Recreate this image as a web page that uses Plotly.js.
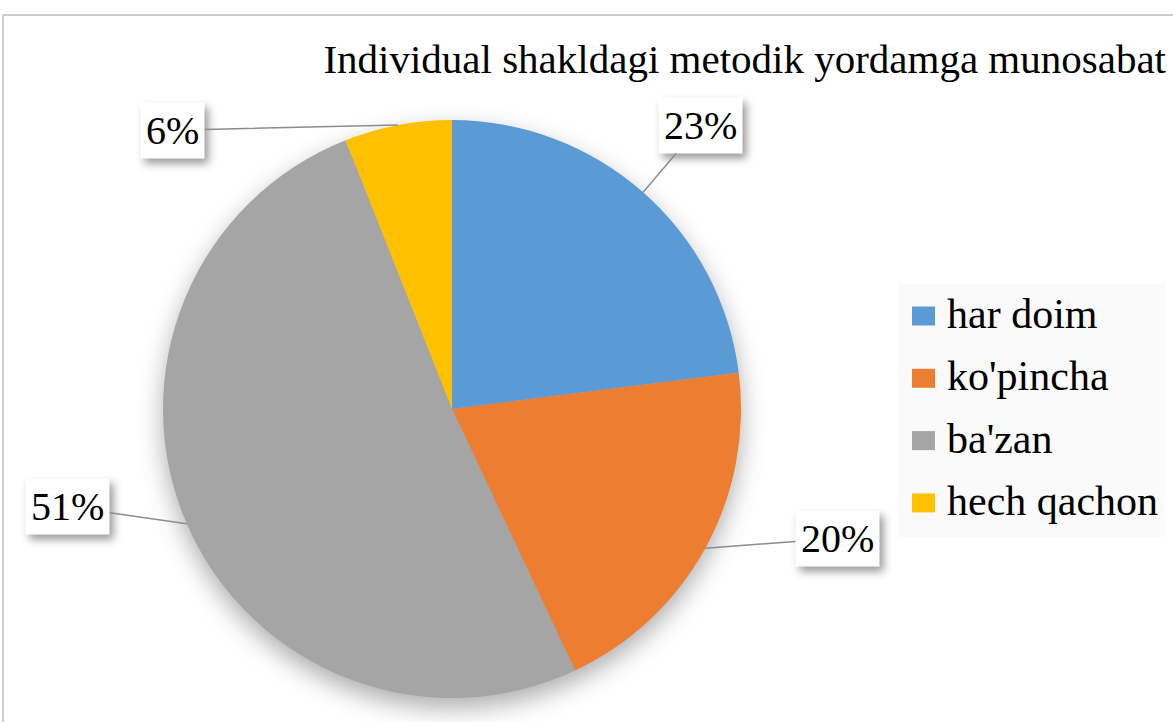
<!DOCTYPE html>
<html>
<head>
<meta charset="utf-8">
<script src="https://cdn.plot.ly/plotly-3.0.1.min.js"></script>
</head>
<body style="margin:0">
<div id="chart" style="width:1173px;height:722px"></div>
<script>
// ---- data ----
const categories = ["har doim", "ko'pincha", "ba'zan", "hech qachon"];
const values = [23, 20, 51, 6];
const colors = ["#5B9BD5", "#ED7D31", "#A5A5A5", "#FFC000"];
const chartTitle = "Individual shakldagi metodik yordamga munosabat";

// ---- layout constants (pixels) ----
const W = 1173, H = 722;
const CX = 452, CY = 409, R = 289;               // pie centre / radius
const labelOffsets = [[57, -67], [132, -10], [-119, -17], [-225, 5]]; // data-label placement
const LEG = { x0: 898, x1: 1165, y0: 283, y1: 537, firstY: 316, gap: 62.3, sqX: 912, sqW: 23, sqH: 19, textX: 945 };
const FONT = "Times New Roman, serif";

// make sure the serif face is resolved before/after drawing
function touchFonts() {
  const c = document.createElement('canvas').getContext('2d');
  ['40px "Times New Roman"', '41px "Times New Roman"', '42px "Times New Roman"', '40px serif', '40px "Liberation Serif"'].forEach(f => {
    c.font = f; c.measureText(chartTitle + ' 23%');
  });
  try { document.fonts.check('40px "Times New Roman"'); document.fonts.check('40px "Liberation Serif"'); } catch (e) {}
}
touchFonts();

const px2x = p => p / W;
const px2y = p => 1 - p / H;

function buildFigure() {
  const total = values.reduce((a, b) => a + b, 0);
  let cum = 0;
  const annotations = values.map((v, i) => {
    const theta = 2 * Math.PI * (cum + v / 2) / total;
    cum += v;
    const px = CX + R * Math.sin(theta);
    const py = CY - R * Math.cos(theta);
    return {
      x: px2x(px), y: px2y(py), xref: 'paper', yref: 'paper',
      ax: labelOffsets[i][0], ay: labelOffsets[i][1],
      text: Math.round(v / total * 100) + '%',
      showarrow: true, arrowhead: 0, arrowwidth: 1.5, arrowcolor: '#8c8c8c',
      standoff: 0, startstandoff: 0,
      bgcolor: '#ffffff', borderpad: 5,
      font: { family: FONT, size: 40, color: '#000000' }
    };
  });

  const shapes = [
    { type: 'line', xref: 'paper', yref: 'paper', x0: px2x(3), x1: 1, y0: px2y(15), y1: px2y(15), line: { color: '#cccccc', width: 2 } },
    { type: 'line', xref: 'paper', yref: 'paper', x0: px2x(3), x1: px2x(3), y0: 0, y1: px2y(15), line: { color: '#cccccc', width: 2 } },
    { type: 'rect', xref: 'paper', yref: 'paper', x0: px2x(LEG.x0), x1: px2x(LEG.x1), y0: px2y(LEG.y1), y1: px2y(LEG.y0),
      fillcolor: '#fafafa', line: { width: 0 }, layer: 'below' }
  ];
  categories.forEach((c, i) => {
    const cy = LEG.firstY + i * LEG.gap;
    shapes.push({ type: 'rect', xref: 'paper', yref: 'paper',
      x0: px2x(LEG.sqX), x1: px2x(LEG.sqX + LEG.sqW), y0: px2y(cy + LEG.sqH / 2), y1: px2y(cy - LEG.sqH / 2),
      fillcolor: colors[i], line: { width: 0 } });
    annotations.push({ x: px2x(LEG.textX), y: px2y(cy - 2), xref: 'paper', yref: 'paper',
      xanchor: 'left', yanchor: 'middle', showarrow: false, text: c,
      font: { family: FONT, size: 42, color: '#000000' } });
  });

  const trace = {
    type: 'pie',
    labels: categories,
    values: values,
    sort: false,
    direction: 'clockwise',
    rotation: 0,
    marker: { colors: colors, line: { width: 0 } },
    textinfo: 'none',
    hoverinfo: 'label+percent',
    showlegend: false,
    domain: { x: [px2x(CX - R), px2x(CX + R)], y: [px2y(CY + R), px2y(CY - R)] }
  };

  const layout = {
    width: W, height: H,
    margin: { l: 0, r: 0, t: 0, b: 0 },
    paper_bgcolor: '#ffffff',
    font: { family: FONT, color: '#000000' },
    title: {
      text: chartTitle,
      x: 1166 / W, xanchor: 'right', xref: 'container',
      y: 1 - 59 / H, yanchor: 'middle', yref: 'container',
      font: { family: FONT, size: 41, color: '#000000' }
    },
    showlegend: false,
    annotations: annotations,
    shapes: shapes
  };
  return { data: [trace], layout: layout };
}

function decorate() {
  document.querySelectorAll('.pielayer').forEach(g => {
    g.style.filter = 'drop-shadow(0px 10px 12px rgba(0,0,0,0.32))';
  });
  document.querySelectorAll('.annotation-text-g rect.bg').forEach(r => {
    const s = r.getAttribute('style') || '';
    if (s.indexOf('rgb(255, 255, 255)') >= 0) {
      r.style.filter = 'drop-shadow(4px 5px 4px rgba(0,0,0,0.40))';
    }
  });
}

function draw() {
  const fig = buildFigure();
  return Plotly.react('chart', fig.data, fig.layout, { staticPlot: true }).then(() => { touchFonts(); decorate(); });
}

draw();
if (document.fonts && document.fonts.load) {
  Promise.all([document.fonts.load('41px "Times New Roman"'), document.fonts.load('40px serif')])
    .then(() => draw()).catch(() => {});
}
</script>
</body>
</html>
